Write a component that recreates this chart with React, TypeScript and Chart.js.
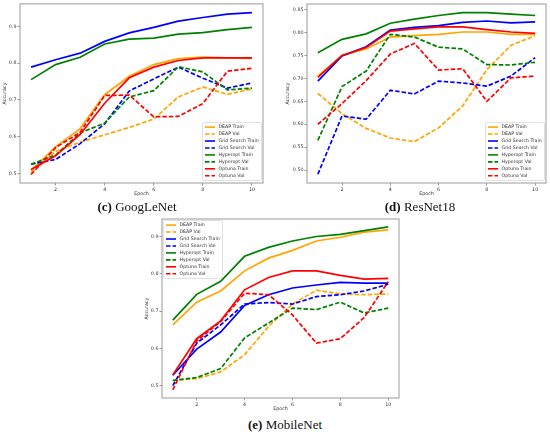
import { useEffect, useRef } from 'react';
import { Chart, registerables } from 'chart.js';

Chart.register(...registerables);

const epochs = [1, 2, 3, 4, 5, 6, 7, 8, 9, 10];
const xTicks = [2, 4, 6, 8, 10];

const seriesNames = [
  'DEAP Train', 'DEAP Val', 'Grid Search Train', 'Grid Search Val',
  'Hyperopt Train', 'Hyperopt Val', 'Optuna Train', 'Optuna Val',
];
const seriesColors = ['#ffa500', '#ffa500', '#0000ff', '#0000ff', '#008000', '#008000', '#ff0000', '#ff0000'];

// GoogLeNet
const googDeapTrain = [0.508, 0.572, 0.622, 0.714, 0.764, 0.796, 0.812, 0.816, 0.814, 0.813];
const googDeapVal = [0.502, 0.56, 0.585, 0.605, 0.625, 0.648, 0.708, 0.735, 0.715, 0.73];
const googGridTrain = [0.789, 0.809, 0.827, 0.859, 0.882, 0.897, 0.914, 0.924, 0.933, 0.937];
const googGridVal = [0.525, 0.538, 0.581, 0.635, 0.724, 0.757, 0.789, 0.759, 0.732, 0.746];
const googHyperTrain = [0.755, 0.796, 0.816, 0.852, 0.865, 0.868, 0.879, 0.883, 0.891, 0.897];
const googHyperVal = [0.525, 0.55, 0.61, 0.637, 0.708, 0.725, 0.79, 0.776, 0.727, 0.732];
const googOptTrain = [0.511, 0.548, 0.606, 0.691, 0.76, 0.789, 0.807, 0.814, 0.814, 0.814];
const googOptVal = [0.497, 0.57, 0.612, 0.712, 0.713, 0.654, 0.655, 0.69, 0.778, 0.786];

// ResNet18
const resDeapTrain = [0.705, 0.75, 0.764, 0.79, 0.793, 0.796, 0.801, 0.801, 0.796, 0.796];
const resDeapVal = [0.667, 0.623, 0.591, 0.57, 0.562, 0.592, 0.64, 0.719, 0.772, 0.793];
const resGridTrain = [0.694, 0.749, 0.769, 0.805, 0.811, 0.815, 0.822, 0.825, 0.821, 0.823];
const resGridVal = [0.491, 0.618, 0.611, 0.674, 0.666, 0.694, 0.69, 0.683, 0.705, 0.745];
const resHyperTrain = [0.756, 0.785, 0.797, 0.82, 0.829, 0.837, 0.843, 0.843, 0.84, 0.837];
const resHyperVal = [0.565, 0.682, 0.716, 0.796, 0.79, 0.768, 0.764, 0.73, 0.729, 0.735];
const resOptTrain = [0.702, 0.75, 0.767, 0.803, 0.808, 0.812, 0.812, 0.806, 0.801, 0.798];
const resOptVal = [0.6, 0.645, 0.695, 0.753, 0.776, 0.718, 0.721, 0.65, 0.701, 0.705];

// MobileNet
const mobDeapTrain = [0.663, 0.724, 0.754, 0.808, 0.842, 0.863, 0.888, 0.898, 0.912, 0.918];
const mobDeapVal = [0.514, 0.519, 0.537, 0.583, 0.659, 0.719, 0.756, 0.746, 0.744, 0.746];
const mobGridTrain = [0.528, 0.598, 0.644, 0.715, 0.744, 0.762, 0.77, 0.777, 0.775, 0.775];
const mobGridVal = [0.5, 0.614, 0.663, 0.719, 0.723, 0.719, 0.739, 0.744, 0.754, 0.772];
const mobHyperTrain = [0.676, 0.745, 0.78, 0.847, 0.871, 0.888, 0.9, 0.906, 0.916, 0.926];
const mobHyperVal = [0.514, 0.522, 0.546, 0.628, 0.668, 0.708, 0.704, 0.724, 0.695, 0.708];
const mobOptTrain = [0.529, 0.626, 0.674, 0.757, 0.79, 0.808, 0.808, 0.796, 0.786, 0.788];
const mobOptVal = [0.489, 0.62, 0.672, 0.748, 0.744, 0.69, 0.614, 0.626, 0.683, 0.779];

const googTicks = [0.5, 0.6, 0.7, 0.8, 0.9];
const resTicks = [0.5, 0.55, 0.6, 0.65, 0.7, 0.75, 0.8, 0.85];
const mobTicks = [0.5, 0.6, 0.7, 0.8, 0.9];

const FONT = '"DejaVu Sans", sans-serif';

const framePlugin = {
  id: 'frame',
  afterDatasetsDraw(chart: any) {
    const { ctx, chartArea: a } = chart;
    ctx.save();
    ctx.strokeStyle = '#9a9a9a';
    ctx.lineWidth = 1;
    ctx.strokeRect(a.left, a.top, a.right - a.left, a.bottom - a.top);
    ctx.restore();
  },
};

const boxLegendPlugin = {
  id: 'boxLegend',
  afterDraw(chart: any, _args: any, opts: any) {
    const { ctx, chartArea: a } = chart;
    const w = 59;
    const h = 58;
    const rowH = 6.95;
    const x0 = opts.corner === 'ul' ? a.left + 1.5 : a.right - w - 1.5;
    const y0 = opts.corner === 'ul' ? a.top + 1.5 : a.bottom - h - 2.5;
    ctx.save();
    ctx.fillStyle = 'rgba(255,255,255,0.85)';
    ctx.strokeStyle = '#d4d4d4';
    ctx.lineWidth = 0.7;
    ctx.beginPath();
    ctx.roundRect(x0, y0, w, h, 1.5);
    ctx.fill();
    ctx.stroke();
    ctx.font = `4.7px ${FONT}`;
    ctx.textBaseline = 'middle';
    chart.data.datasets.forEach((ds: any, i: number) => {
      const y = y0 + 4.6 + i * rowH;
      ctx.strokeStyle = ds.borderColor;
      ctx.lineWidth = 1.6;
      ctx.setLineDash(ds.borderDash || []);
      ctx.beginPath();
      ctx.moveTo(x0 + 2.5, y);
      ctx.lineTo(x0 + 12.5, y);
      ctx.stroke();
      ctx.setLineDash([]);
      ctx.fillStyle = '#333';
      ctx.fillText(ds.label, x0 + 16, y);
    });
    ctx.restore();
  },
};

interface PanelProps {
  left: number;
  top: number;
  width: number;
  height: number;
  yWidth: number;
  xHeight: number;
  padTop: number;
  padRight: number;
  yMin: number;
  yMax: number;
  yTicks: number[];
  decimals: number;
  titlePad: number;
  corner: string;
  series: number[][];
}

function Panel(p: PanelProps) {
  const canvasRef = useRef<HTMLCanvasElement | null>(null);

  useEffect(() => {
    if (!canvasRef.current) return;
    const chart = new Chart(canvasRef.current, {
      type: 'line',
      data: {
        labels: epochs,
        datasets: p.series.map((values, i) => ({
          label: seriesNames[i],
          data: values.map((v, k) => ({ x: epochs[k], y: v })),
          borderColor: seriesColors[i],
          backgroundColor: seriesColors[i],
          borderWidth: 1.7,
          borderDash: i % 2 === 1 ? [4.5, 2] : [],
          pointRadius: 0,
          tension: 0,
          fill: false,
          order: 8 - i,
        })),
      },
      options: {
        responsive: false,
        animation: false,
        layout: { padding: { top: p.padTop, right: p.padRight, left: 0, bottom: 0 } },
        plugins: {
          legend: { display: false },
          tooltip: { enabled: false },
          boxLegend: { corner: p.corner },
        } as any,
        scales: {
          x: {
            type: 'linear',
            min: 0.55,
            max: 10.45,
            afterBuildTicks: (axis: any) => {
              axis.ticks = xTicks.map((v) => ({ value: v }));
            },
            afterFit: (axis: any) => {
              axis.height = p.xHeight;
            },
            ticks: {
              font: { family: FONT, size: 4.8 },
              color: '#333',
              padding: 1,
              maxRotation: 0,
              callback: (v: any) => String(v),
            },
            grid: { drawOnChartArea: false, drawTicks: true, tickLength: 2.5, color: '#555', lineWidth: 0.6 },
            border: { display: false },
            title: {
              display: true,
              text: 'Epoch',
              font: { family: FONT, size: 4.8 },
              color: '#333',
              padding: { top: 0, bottom: 3 },
            },
          },
          y: {
            type: 'linear',
            min: p.yMin,
            max: p.yMax,
            afterBuildTicks: (axis: any) => {
              axis.ticks = p.yTicks.map((v) => ({ value: v }));
            },
            afterFit: (axis: any) => {
              axis.width = p.yWidth;
            },
            ticks: {
              font: { family: FONT, size: 4.8 },
              color: '#333',
              padding: 1,
              callback: (v: any) => Number(v).toFixed(p.decimals),
            },
            grid: { drawOnChartArea: false, drawTicks: true, tickLength: 2.5, color: '#555', lineWidth: 0.6 },
            border: { display: false },
            title: {
              display: true,
              text: 'Accuracy',
              font: { family: FONT, size: 4.8 },
              color: '#333',
              padding: { top: p.titlePad, bottom: 0 },
            },
          },
        },
      },
      plugins: [framePlugin, boxLegendPlugin],
    });
    return () => chart.destroy();
  }, []);

  return (
    <div style={{ position: 'absolute', left: p.left, top: p.top, width: p.width, height: p.height }}>
      <canvas ref={canvasRef} width={p.width} height={p.height} style={{ width: p.width, height: p.height }} />
    </div>
  );
}

function Caption({ x, y, tag, name }: { x: number; y: number; tag: string; name: string }) {
  return (
    <div
      style={{
        position: 'absolute',
        left: x - 100,
        top: y - 9,
        width: 200,
        textAlign: 'center',
        fontFamily: '"Liberation Serif", serif',
        fontSize: 13,
        lineHeight: '18px',
        color: '#111',
        whiteSpace: 'nowrap',
      }}
    >
      <b>({tag})</b> {name}
    </div>
  );
}

export default function App() {
  return (
    <div style={{ position: 'fixed', left: 0, top: 0, width: 550, height: 434, background: '#fff', overflow: 'hidden' }}>
      <Panel
        left={0} top={0} width={268} height={200}
        yWidth={20} xHeight={17} padTop={3} padRight={5}
        yMin={0.474} yMax={0.961} yTicks={googTicks} decimals={1} titlePad={2} corner="lr"
        series={[googDeapTrain, googDeapVal, googGridTrain, googGridVal, googHyperTrain, googHyperVal, googOptTrain, googOptVal]}
      />
      <Panel
        left={275} top={0} width={275} height={200}
        yWidth={32} xHeight={17} padTop={4} padRight={4}
        yMin={0.472} yMax={0.862} yTicks={resTicks} decimals={2} titlePad={10} corner="lr"
        series={[resDeapTrain, resDeapVal, resGridTrain, resGridVal, resHyperTrain, resHyperVal, resOptTrain, resOptVal]}
      />
      <Panel
        left={130} top={215} width={275} height={200}
        yWidth={32} xHeight={17} padTop={4} padRight={6}
        yMin={0.467} yMax={0.947} yTicks={mobTicks} decimals={1} titlePad={14} corner="ul"
        series={[mobDeapTrain, mobDeapVal, mobGridTrain, mobGridVal, mobHyperTrain, mobHyperVal, mobOptTrain, mobOptVal]}
      />
      <Caption x={137} y={207} tag="c" name="GoogLeNet" />
      <Caption x={420} y={207} tag="d" name="ResNet18" />
      <Caption x={285} y={425} tag="e" name="MobileNet" />
    </div>
  );
}
